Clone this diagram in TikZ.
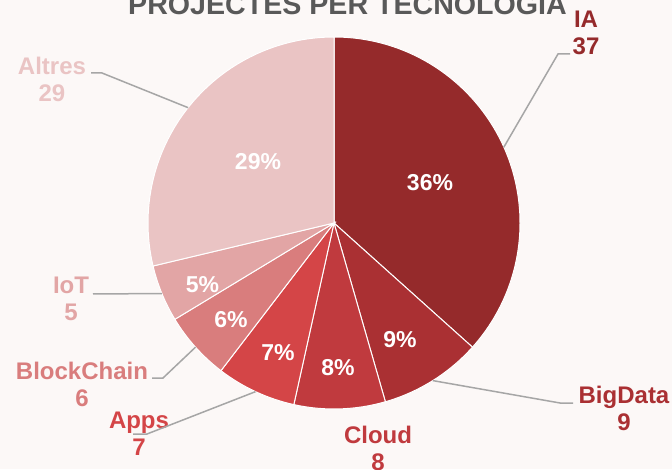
\documentclass[tikz,border=0pt]{standalone}
\usepackage{fontspec}
\setmainfont{Liberation Sans}
\definecolor{bgcol}{HTML}{FCF8F7}
\definecolor{titlecol}{HTML}{595959}
\definecolor{leadcol}{HTML}{A6A6A6}
\definecolor{iacol}{HTML}{952A2B}
\definecolor{bigdatacol}{HTML}{AA3033}
\definecolor{cloudcol}{HTML}{C03A3E}
\definecolor{appscol}{HTML}{D44547}
\definecolor{blockcol}{HTML}{D97D7D}
\definecolor{iotcol}{HTML}{E2A5A5}
\definecolor{altrescol}{HTML}{EAC4C4}
\tikzset{
  slice/.style={draw=white,line width=1pt},
  pct/.style={text=white,font=\bfseries\fontsize{23}{27}\selectfont},
  catlabel/.style={align=center,inner sep=0pt,font=\bfseries\fontsize{24}{27}\selectfont},
  leader/.style={draw=leadcol,line width=1.5pt}
}
\begin{document}
\begin{tikzpicture}[x=1pt,y=1pt]
\fill[bgcol] (0,0) rectangle (672,469);
\useasboundingbox (0,0) rectangle (672,469);
\coordinate (c) at (334,246);

% slices
\fill[iacol,slice] (c) -- ++(90:186) arc[start angle=90,end angle=-41.88,radius=186] -- cycle;
\fill[bigdatacol,slice] (c) -- ++(-41.88:186) arc[start angle=-41.88,end angle=-73.96,radius=186] -- cycle;
\fill[cloudcol,slice] (c) -- ++(-73.96:186) arc[start angle=-73.96,end angle=-102.47,radius=186] -- cycle;
\fill[appscol,slice] (c) -- ++(-102.47:186) arc[start angle=-102.47,end angle=-127.43,radius=186] -- cycle;
\fill[blockcol,slice] (c) -- ++(-127.43:186) arc[start angle=-127.43,end angle=-148.81,radius=186] -- cycle;
\fill[iotcol,slice] (c) -- ++(-148.81:186) arc[start angle=-148.81,end angle=-166.63,radius=186] -- cycle;
\fill[altrescol,slice] (c) -- ++(-166.63:186) arc[start angle=-166.63,end angle=-270,radius=186] -- cycle;

\node[anchor=base,text=titlecol,font=\bfseries\fontsize{28.6}{32}\selectfont] (title) at (347.5,454) {PROJECTES PER TECNOLOGIA};

\begin{scope}[every node/.style={pct}]
  \node (pia) at (430,286.5) {36\%};
  \node (pbigdata) at (400,129) {9\%};
  \node (pcloud) at (338,101) {8\%};
  \node (papps) at (278,116) {7\%};
  \node (pblock) at (231,149) {6\%};
  \node (piot) at (202.5,184) {5\%};
  \node (paltres) at (258,307) {29\%};
\end{scope}

\begin{scope}[every node/.style={catlabel}]
  \node[text=iacol] (ia) at (586,436.5) {IA\\37};
  \node[text=bigdatacol] (bigdata) at (624,60.3) {BigData\\9};
  \node[text=cloudcol] (cloud) at (378,20.3) {Cloud\\8};
  \node[text=appscol] (apps) at (139,35.6) {Apps\\7};
  \node[text=blockcol] (block) at (82,84.3) {BlockChain\\6};
  \node[text=iotcol] (iot) at (71,169.8) {IoT\\5};
  \node[text=altrescol] (altres) at (52,389.8) {Altres\\29};
\end{scope}

% leader lines
\path (c) ++(24.06:186) coordinate (iaedge);
\path (c) ++(-57.92:186) coordinate (bigdataedge);
\path (c) ++(-114.95:186) coordinate (appsedge);
\path (c) ++(-138.12:186) coordinate (blockedge);
\path (c) ++(-157.72:186) coordinate (iotedge);
\path (c) ++(141.68:186) coordinate (altresedge);
\coordinate (iaend) at (570,415);
\coordinate (bigdataend) at (573,66);
\coordinate (appsend) at (133,35);
\coordinate (blockend) at (152,91);
\coordinate (iotend) at (93,175);
\coordinate (altresend) at (91,396);

\begin{scope}[every path/.style={leader}]
  \draw (iaedge) -- (558,415) -- (iaend);
  \draw (bigdataedge) -- (560,66) -- (bigdataend);
  \draw (appsedge) -- (147,35) -- (appsend);
  \draw (blockedge) -- (163,91) -- (blockend);
  \draw (iotedge) -- (iotend);
  \draw (altresedge) -- (102,396) -- (altresend);
\end{scope}
\end{tikzpicture}
\end{document}
